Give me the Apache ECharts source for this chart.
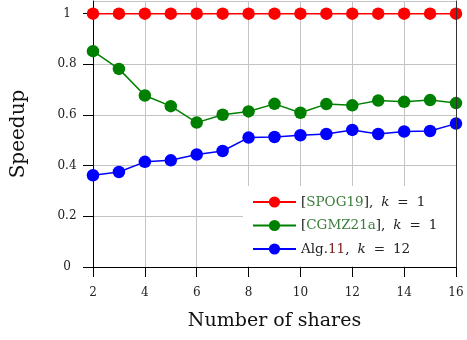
<!DOCTYPE html>
<html>
<head>
<meta charset="utf-8">
<script src="https://cdn.jsdelivr.net/npm/echarts@6/dist/echarts.min.js"></script>
<style>html,body{margin:0;padding:0;background:#fff}#c{width:467px;height:340px}</style>
</head>
<body>
<div id="c"></div>
<script>
const shares = [2,3,4,5,6,7,8,9,10,11,12,13,14,15,16];
const spog19 = [1,1,1,1,1,1,1,1,1,1,1,1,1,1,1];
const cgmz21a = [0.852,0.782,0.677,0.635,0.570,0.601,0.614,0.644,0.609,0.643,0.638,0.657,0.652,0.659,0.647];
const alg11 = [0.362,0.375,0.415,0.421,0.444,0.458,0.511,0.513,0.520,0.525,0.541,0.525,0.535,0.537,0.566];
const seriesNames = ['[SPOG19], k = 1', '[CGMZ21a], k = 1', 'Alg.11, k = 12'];
const legendRich = {
  '[SPOG19], k = 1': '{b|[}{g|SPOG19}{b|],}{i|k}{e|=}{b|1}',
  '[CGMZ21a], k = 1': '{b|[}{g|CGMZ21a}{b|],}{i|k}{e|=}{b|1}',
  'Alg.11, k = 12': '{b|Alg.}{r|11}{b|,}{i|k}{e|=}{b|12}'
};
const FONT = 'DejaVu Serif';
const pairs = ys => shares.map((x, i) => [x, ys[i]]);
const chart = echarts.init(document.getElementById('c'), null, {renderer: 'canvas'});
const mk = (name, data, color) => ({
  name, type: 'line', data: pairs(data), clip: false,
  symbol: 'circle', symbolSize: 12.5,
  lineStyle: {color, width: 1.5},
  itemStyle: {color},
  z: 5
});
const LFS = 13.5;
chart.setOption({
  animation: false,
  backgroundColor: '#fff',
  grid: {left: 93, right: 11, top: 1, bottom: 73, show: false},
  xAxis: [{
    type: 'value', min: 2, max: 16, interval: 2,
    name: 'Number of shares', nameLocation: 'middle', nameGap: 45,
    nameTextStyle: {fontFamily: FONT, fontSize: 19, color: '#111'},
    axisLine: {show: true, onZero: false, lineStyle: {color: '#000', width: 1}},
    axisTick: {show: true, inside: false, length: 10, lineStyle: {color: '#000'}},
    axisLabel: {fontFamily: FONT, fontSize: 12, color: '#222', margin: 20},
    splitLine: {show: true, lineStyle: {color: '#c4c4c4', width: 1}}
  }, {
    type: 'value', min: 2, max: 16, position: 'top', z: 10,
    axisLine: {show: true, lineStyle: {color: '#000', width: 1}},
    axisTick: {show: false}, axisLabel: {show: false}, splitLine: {show: false}
  }],
  yAxis: [{
    type: 'value', min: 0, max: 1.05, interval: 0.2,
    name: 'Speedup', nameLocation: 'middle', nameGap: 64,
    nameTextStyle: {fontFamily: FONT, fontSize: 20, color: '#111'},
    axisLine: {show: true, onZero: false, lineStyle: {color: '#000', width: 1}},
    axisTick: {show: true, inside: false, length: 10, lineStyle: {color: '#000'}},
    axisLabel: {fontFamily: FONT, fontSize: 12, color: '#222', margin: 26, align: 'center', showMaxLabel: false},
    splitLine: {show: true, lineStyle: {color: '#c4c4c4', width: 1}}
  }, {
    type: 'value', min: 0, max: 1.05, position: 'right', z: 10,
    axisLine: {show: true, lineStyle: {color: '#333', width: 1}},
    axisTick: {show: false}, axisLabel: {show: false}, splitLine: {show: false}
  }],
  legend: {
    data: seriesNames,
    left: 243, top: 186,
    orient: 'vertical',
    backgroundColor: '#fff',
    borderWidth: 0,
    padding: [9, 22, 10, 9],
    itemWidth: 43, itemHeight: 14, itemGap: 9.5,
    formatter: name => legendRich[name],
    textStyle: {
      fontFamily: FONT, fontSize: LFS, color: '#222', lineHeight: 14,
      rich: {
        b: {fontFamily: FONT, fontSize: LFS, color: '#222'},
        g: {fontFamily: FONT, fontSize: LFS, color: '#3a7d3a'},
        r: {fontFamily: FONT, fontSize: LFS, color: '#7a1a1a'},
        i: {fontFamily: FONT, fontSize: LFS, color: '#222', fontStyle: 'italic', padding: [0, 0, 0, 8]},
        e: {fontFamily: FONT, fontSize: LFS, color: '#222', padding: [0, 8]}
      }
    }
  },
  series: [
    mk(seriesNames[0], spog19, '#ff0000'),
    mk(seriesNames[1], cgmz21a, '#008000'),
    mk(seriesNames[2], alg11, '#0000ff')
  ]
});
</script>
</body>
</html>
